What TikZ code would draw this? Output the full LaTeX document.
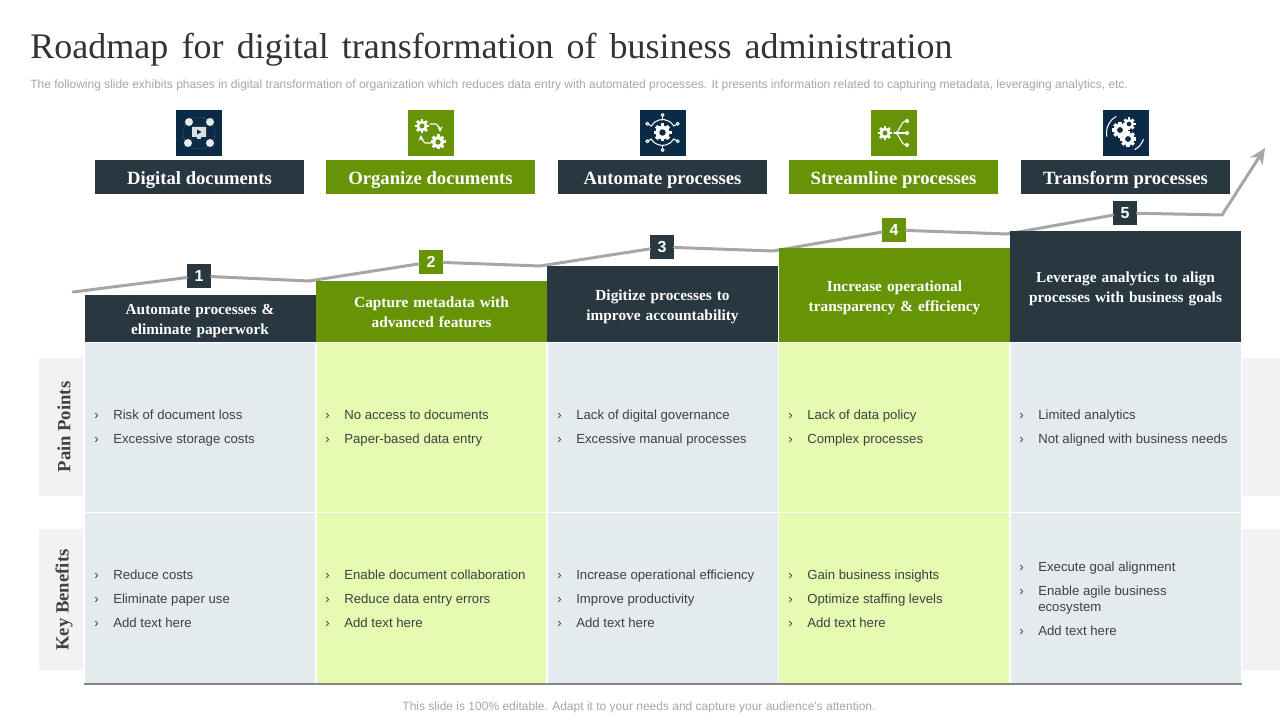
\documentclass[tikz,border=0pt]{standalone}
\usepackage{fontspec}
\setmainfont{Liberation Serif}
\newfontfamily\arialfont{Liberation Sans}
\usetikzlibrary{positioning,arrows.meta}
\definecolor{darkslate}{HTML}{283740}
\definecolor{leafgreen}{HTML}{669406}
\definecolor{paleblue}{HTML}{E4EBEE}
\definecolor{palegreen}{HTML}{E4FBB1}
\definecolor{sidegray}{HTML}{F2F2F2}
\definecolor{trendgray}{HTML}{A6A6A6}
\definecolor{iconnavy}{HTML}{0B2A45}
\definecolor{bodytext}{HTML}{404040}
\newcommand{\itm}[1]{\makebox[14.25pt][l]{›}#1}
\newcommand{\headroom}[1]{\vrule width 0pt height #1\relax}
\newcommand{\widewords}{\spaceskip=0.33em\relax}
\newcommand{\cog}[4]{%
	\foreach \a in {0,45,...,315}
		\draw[white,line width=#3*0.3pt,line cap=butt] (#1,#2)--++(\a:#3);
	\fill[white] (#1,#2) circle(#3*0.78);
	\fill[#4] (#1,#2) circle(#3*0.36);
}
\tikzset{
	phase/.style={minimum width=156.75pt,minimum height=25.5pt,inner sep=0pt,text height=12pt,text depth=0.75pt,text=white,font=\fontsize{14}{16}\selectfont\bfseries},
	stage/.style={minimum width=173.25pt,inner sep=0pt,text=white,align=center,font=\fontsize{11.5}{15}\selectfont\bfseries\widewords},
	badge/.style={minimum width=18pt,minimum height=18pt,inner sep=0pt,text=white,font=\arialfont\fontsize{12}{14}\selectfont\bfseries},
	points/.style={anchor=west,inner sep=0pt,align=left,text=bodytext,font=\arialfont\fontsize{9.9}{18}\selectfont},
	sidelabel/.style={rotate=90,inner sep=0pt,text=bodytext,font=\fontsize{14}{16}\selectfont\bfseries},
	sidebox/.style={fill=sidegray,inner sep=0pt,minimum width=33pt},
	iconbox/.style={minimum width=34.5pt,minimum height=34.5pt,inner sep=0pt},
	trend/.style={draw=trendgray,line width=2.25pt},
	iconline/.style={white,line width=0.8pt}
}
\begin{document}
\begin{tikzpicture}[x=0.75pt,y=-0.75pt,line join=round,line cap=round,>=stealth]
	\useasboundingbox (0,0) rectangle (1280,720);
	\node[anchor=base west,inner sep=0pt,text=black!80,font=\fontsize{27}{30}\selectfont] (title) at (30,59) {Roadmap\hspace{3.4pt} for\hspace{3pt} digital\hspace{3pt} transformation\hspace{3pt} of\hspace{3pt} business\hspace{3pt} administration};
	\node[anchor=west,inner sep=0pt,text=trendgray,font=\arialfont\fontsize{9}{11}\selectfont] (subtitle) at (30,85.5) {The following slide exhibits phases in digital transformation of organization which reduces data entry with automated processes. It presents information related to capturing metadata, leveraging analytics, etc.};
	\node[inner sep=0pt,text=trendgray,font=\arialfont\fontsize{9}{11}\selectfont] (footer) at (639,707.5) {This slide is 100\% editable. Adapt it to your needs and capture your audience's attention.};

	\fill[paleblue] (85,343) rectangle (316,684);
	\fill[palegreen] (316,343) rectangle (547,684);
	\fill[paleblue] (547,343) rectangle (779,684);
	\fill[palegreen] (779,343) rectangle (1010,684);
	\fill[paleblue] (1010,343) rectangle (1241,684);
	\draw[white,line width=1pt] (85,512.5)--(1241,512.5);
	\draw[white,line width=1pt] (316,343)--(316,684) (547,343)--(547,684) (778.5,343)--(778.5,684) (1010,343)--(1010,684);
	\draw[trendgray!80!black,line width=1.5pt,line cap=butt] (84,684)--(1242,684);

	\node[sidebox,minimum height=103.5pt] (painbox) at (61,427) {};
	\node[sidebox,minimum height=105.75pt] (benefitbox) at (61,599.5) {};
	\fill[sidegray] (1242,358) rectangle (1280,496) (1242,529) rectangle (1280,670);
	\node[sidelabel] (pain) at (64,427) {Pain Points};
	\node[sidelabel] (benefit) at (64,600) {Key Benefits};

	\node[phase,fill=darkslate] (ph1) at (199.5,177) {Digital documents};
	\node[phase,fill=leafgreen] (ph2) at (430.5,177) {Organize documents};
	\node[phase,fill=darkslate] (ph3) at (662.5,177) {Automate processes};
	\node[phase,fill=leafgreen] (ph4) at (893.5,177) {Streamline processes};
	\node[phase,fill=darkslate] (ph5) at (1125.5,177) {Transform processes};

	\node[badge,fill=darkslate] (b1) at (199,276) {1};
	\node[badge,fill=leafgreen] (b2) at (431,262) {2};
	\node[badge,fill=darkslate] (b3) at (662,247) {3};
	\node[badge,fill=leafgreen] (b4) at (894,230) {4};
	\node[badge,fill=darkslate] (b5) at (1125,213) {5};
	\coordinate (t0) at (73,292);
	\coordinate (t1) at (309,281);
	\coordinate (t2) at (540,266);
	\coordinate (t3) at (773,251);
	\coordinate (t4) at (1007,234);
	\coordinate (t5) at (1222,215);
	\coordinate (t6) at (1265,148);
	\draw[trend] (t0)--(b1)--(t1)--(b2)--(t2)--(b3)--(t3)--(b4)--(t4)--(b5)--(t5);
	\draw[trend,-{Stealth[length=12pt,width=11pt]}] (t5)--(t6);

	\node[stage,fill=darkslate,minimum height=35.25pt] (st1) at (200,318.5) {\headroom{11pt}Automate processes \&\\eliminate paperwork};
	\node[stage,fill=leafgreen,minimum height=45.75pt] (st2) at (431.5,311.5) {\headroom{9.5pt}Capture metadata with\\advanced features};
	\node[stage,fill=darkslate,minimum height=57pt] (st3) at (662.5,304) {\headroom{12.5pt}Digitize processes to\\improve accountability};
	\node[stage,fill=leafgreen,minimum height=70.5pt] (st4) at (894.5,295) {\headroom{12.5pt}Increase operational\\transparency \& efficiency};
	\node[stage,fill=darkslate,minimum height=83.25pt] (st5) at (1125.5,286.5) {\headroom{11pt}Leverage analytics to align\\processes with business goals};

	\node[points] (pa1) at (94,428) {\itm{Risk of document loss}\\\itm{Excessive storage costs}};
	\node[points] (pa2) at (325,428) {\itm{No access to documents}\\\itm{Paper-based data entry}};
	\node[points] (pa3) at (557,428) {\itm{Lack of digital governance}\\\itm{Excessive manual processes}};
	\node[points] (pa4) at (788,428) {\itm{Lack of data policy}\\\itm{Complex processes}};
	\node[points] (pa5) at (1019,428) {\itm{Limited analytics}\\\itm{Not aligned with business needs}};
	\node[points] (be1) at (94,599) {\itm{Reduce costs}\\\itm{Eliminate paper use}\\\itm{Add text here}};
	\node[points] (be2) at (325,599) {\itm{Enable document collaboration}\\\itm{Reduce data entry errors}\\\itm{Add text here}};
	\node[points] (be3) at (557,599) {\itm{Increase operational efficiency}\\\itm{Improve productivity}\\\itm{Add text here}};
	\node[points] (be4) at (788,599) {\itm{Gain business insights}\\\itm{Optimize staffing levels}\\\itm{Add text here}};
	\node[points] (be5) at (1019,599) {\itm{Execute goal alignment}\\\itm{Enable agile business}\\[-6pt]\hspace{14.25pt}ecosystem\\\itm{Add text here}};

	\node[iconbox,fill=iconnavy] (ic1) at (199,133) {};
	\node[iconbox,fill=leafgreen] (ic2) at (431,133) {};
	\node[iconbox,fill=iconnavy] (ic3) at (662.5,133) {};
	\node[iconbox,fill=leafgreen] (ic4) at (894,133) {};
	\node[iconbox,fill=iconnavy] (ic5) at (1125.5,133) {};

	\draw[white!60!iconnavy,line width=0.3pt,densely dotted] (199,133) circle(16);
	\fill[white!85!iconnavy] (192,127) rectangle (206,137) (197,137) rectangle (201,139);
	\fill[iconnavy] (197,129.5)--(197,134.5)--(201.5,132)--cycle;
	\foreach \p in {(189,122),(210,122),(188,143),(210,143)}
		\fill[white!90!iconnavy] \p circle(4);

	\cog{422}{126}{7}{leafgreen}
	\cog{438}{142}{7.5}{leafgreen}
	\draw[iconline,->] (430,124)--(436,124)--(440,128)--(440,132);
	\draw[iconline,->] (431,143)--(425,143)--(421,139)--(421,135);

	\cog{662.5}{132.5}{9}{iconnavy}
	\draw[iconline] (662.5,132.5)++(30:13) arc(30:150:13) (662.5,132.5)++(210:13) arc(210:330:13);
	\foreach \a in {30,90,150,210,270,330}{
		\draw[iconline] (662.5,132.5)++(\a:13)--++(\a:3);
		\draw[iconline] (662.5,132.5)++(\a:17.5) circle(1.5);
	}

	\cog{885}{133}{7}{leafgreen}
	\draw[iconline] (894,133)--(907,133);
	\draw[iconline] (907,121)..controls (899,121) and (901,133)..(894,133)..controls (901,133) and (899,145)..(907,145);
	\fill[white] (907,121) circle(2) (907,133) circle(2) (907,145) circle(2);

	\cog{1120}{130}{8}{iconnavy}
	\cog{1129}{124}{6.5}{iconnavy}
	\cog{1128}{139}{8}{iconnavy}
	\draw[iconline] (1125.5,133)++(60:19) arc(60:20:19);
	\draw[iconline] (1125.5,133)++(-120:19) arc(-120:-190:19);
\end{tikzpicture}
\end{document}
